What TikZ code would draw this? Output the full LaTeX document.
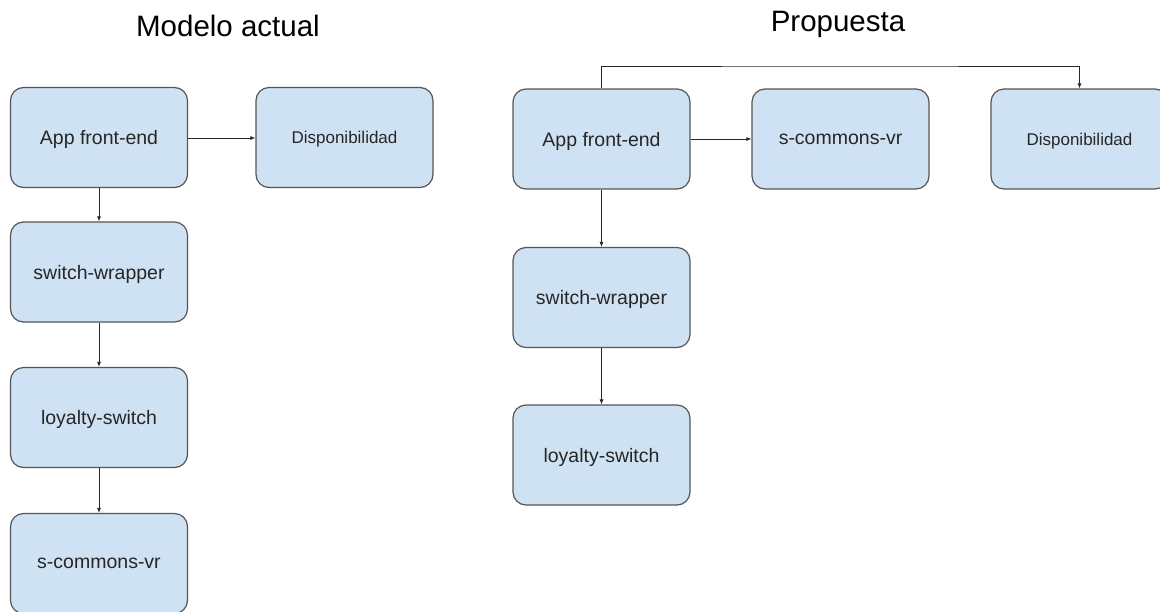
\documentclass[tikz,border=0pt]{standalone}
\usepackage{fontspec}
\setmainfont{Liberation Sans}
\usetikzlibrary{arrows.meta}
\definecolor{boxfill}{HTML}{CFE2F3}
\definecolor{boxline}{HTML}{555555}
\begin{document}
\begin{tikzpicture}[x=1pt,y=-1pt,
  box/.style={draw=boxline, fill=boxfill, line width=1.2pt, rounded corners=13pt,
    minimum width=177pt, minimum height=100pt, inner sep=0pt, text depth=0pt,
    font=\fontsize{19.5}{22}\selectfont, text=black!85},
  smallbox/.style={box, font=\fontsize{17}{20}\selectfont},
  title/.style={font=\fontsize{29.5}{34}\selectfont, text=black, inner sep=0pt},
  conn/.style={draw=black!85, line width=0.8pt, -{Latex[length=5pt,width=4pt]}}]
\useasboundingbox (0,0) rectangle (1160,611);
% titles
\node[title] (t1) at (228,26) {Modelo actual};
\node[title] (t2) at (838,24) {Propuesta};
% left model
\node[box] (a1) at (99,137.5) {App front-end};
\node[smallbox] (d1) at (344.5,137.5) {Disponibilidad};
\node[box] (sw1) at (99,272) {switch-wrapper};
\node[box] (ls1) at (99,417.5) {loyalty-switch};
\node[box] (sc1) at (99,563.5) {s-commons-vr};
\draw[conn] (a1.east |- 0,138) -- (d1.west |- 0,138);
\draw[conn] (a1) -- (sw1);
\draw[conn] (sw1) -- (ls1);
\draw[conn] (ls1) -- (sc1);
% proposal
\node[box] (a2) at (601.5,139) {App front-end};
\node[box] (sc2) at (840.5,139) {s-commons-vr};
\node[smallbox] (d2) at (1079.5,139) {Disponibilidad};
\node[box] (sw2) at (601.5,297.5) {switch-wrapper};
\node[box] (ls2) at (601.5,455) {loyalty-switch};
\coordinate (top) at (840,66);
\draw[conn] (a2) -- (sc2);
\draw[conn] (a2.north) |- (top) -| (d2.north);
\draw[conn] (a2) -- (sw2);
\draw[conn] (sw2) -- (ls2);
\end{tikzpicture}
\end{document}
